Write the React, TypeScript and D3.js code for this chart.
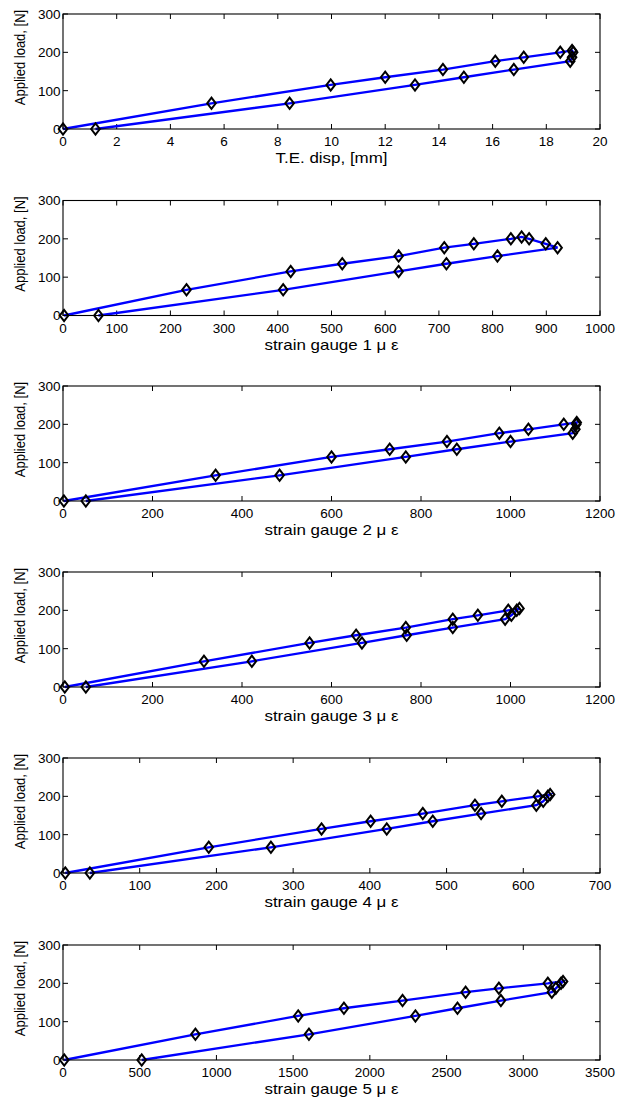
import React from "react";
import * as d3 from "d3";

// Applied load for each step: loading up to the peak, then unloading
const loadN = [0, 67, 115, 135, 155, 177, 187, 200, 205, 200, 187, 177, 155, 135, 115, 67, 0];

// Measured responses at each load step
const teDisp = [0, 5.53, 9.97, 12.0, 14.15, 16.1, 17.16, 18.52, 18.96, 19.0, 18.96, 18.89, 16.79, 14.93, 13.11, 8.44, 1.21];
const gauge1 = [2, 230, 424, 520, 625, 710, 765, 834, 854, 868, 899, 921, 809, 714, 625, 410, 66];
const gauge2 = [2, 341, 600, 730, 858, 975, 1040, 1119, 1148, 1147, 1145, 1139, 1000, 880, 766, 484, 51];
const gauge3 = [4, 315, 551, 655, 766, 871, 927, 995, 1020, 1014, 1002, 988, 871, 768, 668, 422, 51];
const gauge4 = [3, 190, 337, 401, 469, 537, 572, 619, 635, 632, 626, 617, 545, 482, 422, 271, 35];
const gauge5 = [8, 863, 1533, 1831, 2213, 2624, 2841, 3160, 3259, 3246, 3212, 3186, 2854, 2571, 2297, 1603, 513];

const xLabels = [
  "T.E. disp, [mm]",
  "strain gauge 1 \u03bc \u03b5",
  "strain gauge 2 \u03bc \u03b5",
  "strain gauge 3 \u03bc \u03b5",
  "strain gauge 4 \u03bc \u03b5",
  "strain gauge 5 \u03bc \u03b5",
];
const xSeries = [teDisp, gauge1, gauge2, gauge3, gauge4, gauge5];
const xMax = [20, 1000, 1200, 1200, 700, 3500];
const xStep = [2, 100, 200, 200, 100, 500];
const yTicks = [0, 100, 200, 300];
const yLabel = "Applied load, [N]";

const W = 622;
const H = 1097;
const LEFT = 63;
const RIGHT = 600;
const TOPS = [14, 200.5, 386, 572, 758, 945];
const PH = 115;
const TICK = 5;
const FONT = "'Liberation Sans', Arial, Helvetica, sans-serif";
const TICK_FS = 13.5;
const LABEL_FS = 15;
const WIDEN = 1.13;

function Panel({ i }: { i: number }) {
  const top = TOPS[i];
  const bottom = top + PH;
  const x = d3.scaleLinear().domain([0, xMax[i]]).range([LEFT, RIGHT]);
  const y = d3.scaleLinear().domain([0, 300]).range([bottom, top]);
  const xTicks = d3.range(0, xMax[i] + xStep[i] / 2, xStep[i]);
  const pts: [number, number][] = xSeries[i].map((v, k) => [x(v), y(loadN[k])]);
  const line = d3.line()(pts) || "";
  const diamond = (cx: number, cy: number) =>
    `M${cx},${cy - 5.6}L${cx + 4.3},${cy}L${cx},${cy + 5.6}L${cx - 4.3},${cy}Z`;

  return (
    <g>
      <rect x={LEFT} y={top} width={RIGHT - LEFT} height={PH} fill="#fff" stroke="none" />
      {/* ticks on all four sides, pointing inward */}
      {xTicks.map((t) => (
        <g key={"xt" + t}>
          <line x1={x(t)} x2={x(t)} y1={bottom} y2={bottom - TICK} stroke="#000" strokeWidth={1} />
          <line x1={x(t)} x2={x(t)} y1={top} y2={top + TICK} stroke="#000" strokeWidth={1} />
          <text x={x(t)} y={bottom + 17} textAnchor="middle" fontSize={TICK_FS} fontFamily={FONT} fill="#000">
            {t}
          </text>
        </g>
      ))}
      {yTicks.map((t) => (
        <g key={"yt" + t}>
          <line x1={LEFT} x2={LEFT + TICK} y1={y(t)} y2={y(t)} stroke="#000" strokeWidth={1} />
          <line x1={RIGHT} x2={RIGHT - TICK} y1={y(t)} y2={y(t)} stroke="#000" strokeWidth={1} />
          <text x={LEFT - 2.5} y={y(t)} dy="0.36em" textAnchor="end" fontSize={TICK_FS} fontFamily={FONT} fill="#000">
            {t}
          </text>
        </g>
      ))}
      <path d={line} fill="none" stroke="#0000ff" strokeWidth={2.3} />
      {pts.map(([px, py], k) => (
        <path key={"m" + k} d={diamond(px, py)} fill="none" stroke="#000" strokeWidth={2} />
      ))}
      <rect x={LEFT} y={top} width={RIGHT - LEFT} height={PH} fill="none" stroke="#000" strokeWidth={1.1} />
      <text
        transform={`translate(${(LEFT + RIGHT) / 2},${bottom + 34}) scale(${WIDEN},1)`}
        textAnchor="middle"
        fontSize={LABEL_FS}
        fontFamily={FONT}
        fill="#000"
      >
        {xLabels[i]}
      </text>
      <text
        transform={`translate(25,${(top + bottom) / 2 - 14}) scale(1.1,1) rotate(-90)`}
        textAnchor="middle"
        fontSize={13}
        fontFamily={FONT}
        fill="#000"
      >
        {yLabel}
      </text>
    </g>
  );
}

export default function App() {
  return (
    <svg
      width={W}
      height={H}
      viewBox={`0 0 ${W} ${H}`}
      style={{ position: "absolute", left: 0, top: 0, background: "#fff" }}
    >
      <rect width={W} height={H} fill="#fff" />
      {xSeries.map((_, i) => (
        <Panel key={i} i={i} />
      ))}
    </svg>
  );
}
